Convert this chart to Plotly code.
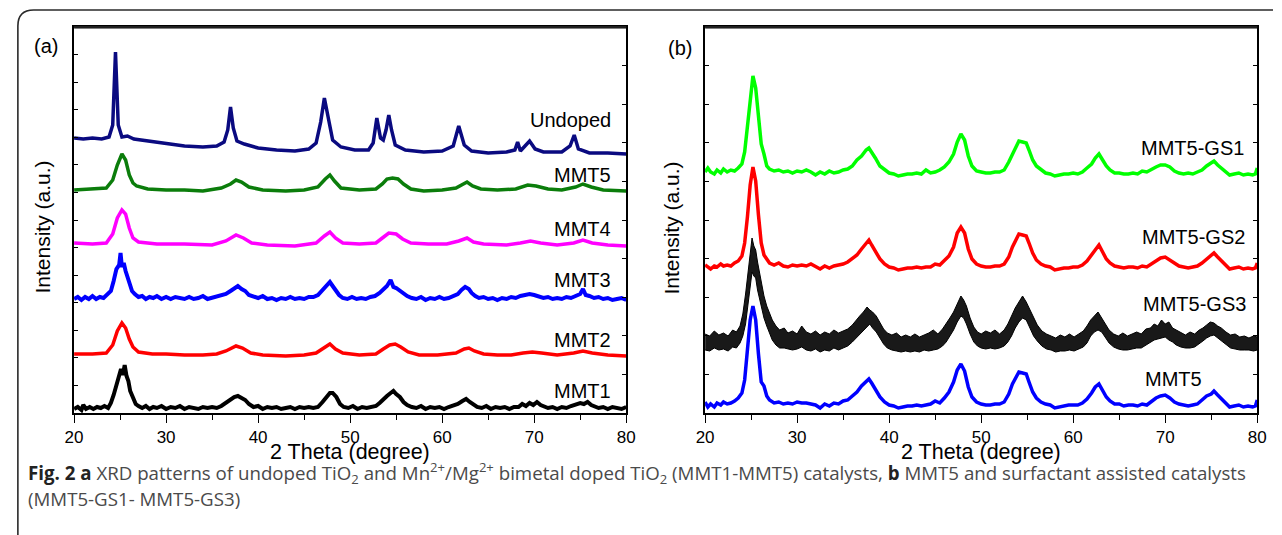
import plotly.graph_objects as go

W, H = 1282, 535

# ---------------- data (2θ in degree, relative intensity in a.u.) ----------------
two_theta_ticks = [20, 30, 40, 50, 60, 70, 80]
X_RANGE = [20, 80]

# panel (a)
undoped = [(20,14),(21,13),(22,14),(23,13),(23.8,15),(24.2,27),(24.5,100),(24.8,27),(25.2,15),(25.8,16),
           (26.5,13),(28,11),(30,8),(32,6),(34,5),(35.5,6),(36.3,10),(36.7,22),(37.0,45),(37.3,24),
           (37.7,11),(38.5,8),(40,4),(42,2),(44,1),(45.5,3),(46.3,9),(46.8,30),(47.2,54),(47.6,34),
           (48.1,12),(49,5),(50.5,2),(52,2),(52.5,9),(52.9,34),(53.3,14),(53.6,12),(53.9,22),(54.2,37),
           (54.5,22),(54.9,7),(56,2),(58,0),(60,1),(61.2,6),(61.8,26),(62.4,7),(63.2,1),(65,-1),
           (67,0),(67.9,2),(68.2,10),(68.5,1),(69.0,6),(69.5,11),(70.1,3),(71,0),(73,0),(73.9,6),
           (74.35,17),(74.8,3),(76,-1),(78,-1),(80,-2)]
mmt5 = [(20,0),(22,1),(23.5,2),(24.2,10),(24.7,25),(25.2,36),(25.6,30),(26.0,15),(26.4,7),(26.8,4),
        (28,1),(30,0),(32,0),(34,-1),(36,2),(37.0,6),(37.6,10),(38.2,8),(39.0,3),(40.5,0),(43,-1),
        (45,0),(46.5,3),(47.3,11),(47.8,15),(48.3,9),(49,2),(51,0),(52.8,1),(53.5,6),(54.0,11),
        (54.6,12),(55.2,11),(55.8,6),(56.6,1),(58,-1),(60,0),(61.5,2),(62.2,6),(62.7,8),(63.3,4),
        (64.2,1),(66,0),(68,1),(69.3,5),(70.2,4),(71.5,1),(73,0),(74.5,3),(75.3,6),(76.2,3),(77.5,0),(80,-1)]
mmt4 = [(20,1),(22,0),(23.5,1),(24.2,10),(24.7,26),(25.2,34),(25.6,30),(26.0,16),(26.4,6),(27,2),
        (29,0),(32,0),(35,-1),(36.5,3),(37.6,9),(38.4,6),(39.3,1),(41,-1),(44,-2),(46.3,1),(47.2,8),
        (47.8,12),(48.4,6),(49.2,1),(51,0),(52.8,1),(53.5,6),(54.2,11),(55.0,10),(55.7,5),(56.6,1),
        (58.5,0),(60.5,0),(61.8,3),(62.7,6),(63.4,2),(64.5,0),(67,-1),(68.5,1),(69.6,3),(70.7,1),
        (72.5,-1),(74.3,1),(75.3,4),(76.3,1),(78,-1),(80,-2)]
mmt3 = [(20,0),(20.4,2),(20.8,-1),(21.2,2),(21.6,0),(22,3),(22.4,0),(22.8,2),(23.2,1),(23.6,4),
        (24.0,8),(24.3,18),(24.6,30),(24.9,34),(25.05,46),(25.2,32),(25.4,36),(25.6,28),(25.8,22),(26.0,14),
        (26.3,8),(26.6,5),(27.0,2),(27.4,3),(27.8,0),(28.2,2),(28.6,1),(29.0,3),(29.5,0),(30,2),
        (30.5,0),(31,2),(31.5,1),(32,0),(32.5,2),(33,0),(33.5,1),(34,3),(34.5,0),(35,1),
        (35.5,2),(36,3),(36.5,5),(37,8),(37.5,11),(37.8,13),(38.2,10),(38.6,8),(39.0,4),(39.5,2),
        (40,1),(40.5,3),(41,0),(41.5,1),(42,-1),(42.5,1),(43,0),(43.5,2),(44,0),(44.5,1),
        (45,0),(45.5,2),(46,2),(46.5,4),(47,9),(47.4,14),(47.8,17),(48.1,13),(48.4,9),(48.8,4),
        (49.2,1),(49.7,0),(50.2,2),(50.7,0),(51.2,1),(51.7,0),(52.2,2),(52.7,3),(53.2,6),(53.6,10),
        (54.0,13),(54.4,19),(54.7,12),(55.0,11),(55.4,8),(55.8,5),(56.2,3),(56.7,1),(57.2,0),(57.7,2),
        (58.2,-1),(58.7,1),(59.2,0),(59.7,2),(60.2,0),(60.7,1),(61.2,3),(61.7,5),(62.1,9),(62.5,12),
        (62.9,10),(63.2,6),(63.6,3),(64.0,1),(64.5,2),(65,0),(65.5,1),(66,-1),(66.5,1),(67,0),
        (67.5,2),(68,1),(68.5,3),(69,4),(69.5,5),(70,4),(70.5,3),(71,1),(71.5,2),(72,0),
        (72.5,1),(73,0),(73.5,2),(74,1),(74.5,3),(75.0,5),(75.3,10),(75.6,4),(76,3),(76.5,1),
        (77,2),(77.5,0),(78,1),(78.5,-1),(79,0),(79.5,1),(80,-1)]
mmt2 = [(20,1),(22,1),(23.5,2),(24.2,10),(24.7,24),(25.2,32),(25.6,27),(26.0,16),(26.4,8),(27,3),
        (28.5,1),(30,1),(32,0),(34,0),(35.5,1),(36.5,4),(37.6,9),(38.3,7),(39.2,2),(40.5,0),(43,-1),
        (45,0),(46.3,2),(47.2,8),(47.8,11),(48.4,6),(49.2,2),(51,0),(52.8,1),(53.6,6),(54.3,10),
        (54.9,11),(55.5,8),(56.3,3),(57.5,0),(59.5,0),(61.5,2),(62.4,6),(62.9,7),(63.5,4),(64.5,1),
        (66,0),(67.5,0),(68.8,2),(69.8,3),(70.8,2),(72.5,0),(74.3,2),(75.3,4),(76.3,2),(78,0),(80,-1)]
mmt1 = [(20,0),(20.4,2),(20.8,-1),(21.0,4),(21.3,0),(21.7,2),(22.1,0),(22.5,2),(22.9,1),(23.3,3),
        (23.7,1),(24.0,6),(24.3,14),(24.6,25),(24.9,32),(25.1,40),(25.3,34),(25.5,44),(25.7,33),(25.9,28),
        (26.1,18),(26.4,10),(26.7,5),(27.0,3),(27.4,1),(27.8,3),(28.2,0),(28.6,2),(29.0,1),(29.5,3),
        (30,0),(30.5,2),(31,1),(31.5,3),(32,0),(32.5,2),(33,1),(33.5,0),(34,2),(34.5,1),
        (35,2),(35.5,1),(36,3),(36.5,6),(37,9),(37.4,12),(37.8,13),(38.2,11),(38.6,9),(39.0,5),
        (39.5,2),(40,3),(40.5,0),(41,2),(41.5,1),(42,2),(42.5,0),(43,1),(43.5,2),(44,0),
        (44.5,2),(45,1),(45.5,2),(46,1),(46.5,2),(47,7),(47.4,12),(47.8,16),(48.1,16),(48.5,12),
        (48.9,5),(49.3,2),(49.8,1),(50.3,3),(50.8,0),(51.3,2),(51.8,1),(52.3,2),(52.8,3),(53.2,6),
        (53.6,10),(54.0,13),(54.4,16),(54.7,18),(55.0,15),(55.4,12),(55.8,7),(56.2,4),(56.7,2),(57.2,1),
        (57.7,3),(58.2,0),(58.7,2),(59.2,1),(59.7,2),(60.2,0),(60.7,2),(61.2,3),(61.7,5),(62.2,8),
        (62.6,10),(63.0,7),(63.4,4),(63.8,2),(64.3,1),(64.8,3),(65.3,0),(65.8,2),(66.3,1),(66.8,2),
        (67.3,0),(67.8,2),(68.3,2),(68.7,5),(69.1,3),(69.5,6),(69.9,4),(70.3,7),(70.7,4),(71.1,3),
        (71.5,1),(72,2),(72.5,0),(73,2),(73.5,1),(74,3),(74.5,4),(75,6),(75.4,5),(75.8,7),
        (76.2,4),(76.6,3),(77,1),(77.5,2),(78,0),(78.5,2),(79,1),(79.5,0),(80,2)]

# panel (b)
gs1 = [(20,2),(20.3,6),(20.6,2),(21.0,0),(21.3,4),(21.7,1),(22.0,5),(22.4,2),(22.8,4),(23.2,3),
       (23.6,6),(24.0,10),(24.3,22),(24.6,48),(24.9,80),(25.2,98),(25.5,86),(25.8,55),(26.1,30),(26.4,20),
       (26.7,8),(27.0,5),(27.5,3),(28,4),(28.5,2),(29,3),(29.5,1),(30,3),(30.5,2),(31,4),
       (31.5,2),(32,-1),(32.5,2),(33,0),(33.5,3),(34,1),(34.5,2),(35,4),(35.5,5),(36,8),
       (36.5,14),(37.0,18),(37.5,24),(37.8,26),(38.1,22),(38.5,16),(39.0,8),(39.5,4),(40,1),(40.5,0),
       (41,-2),(41.5,-1),(42,0),(42.5,0),(43,1),(43.5,0),(44,4),(44.5,1),(45,2),(45.5,4),
       (46,7),(46.5,12),(47.0,20),(47.4,32),(47.8,40),(48.2,34),(48.6,18),(49.0,8),(49.5,3),(50,2),
       (50.5,1),(51,1),(51.5,2),(52,2),(52.5,4),(53.0,12),(53.4,20),(53.8,28),(54.1,33),(54.5,32),
       (54.9,31),(55.2,24),(55.6,14),(56.0,8),(56.5,4),(57,1),(57.5,0),(58,-2),(58.5,-1),(59,0),
       (59.5,0),(60,1),(60.5,0),(61,2),(61.5,6),(62.0,10),(62.4,16),(62.8,20),(63.2,14),(63.6,8),
       (64.0,4),(64.5,1),(65,1),(65.5,0),(66,0),(66.5,1),(67,0),(67.5,3),(68,2),(68.5,5),
       (69,7),(69.5,9),(70,9),(70.5,7),(71,3),(71.5,1),(72,0),(72.5,1),(73,0),(73.5,2),
       (74,4),(74.5,8),(75.0,11),(75.3,13),(75.7,9),(76.2,5),(76.7,2),(77,-1),(77.5,0),(78,1),
       (78.5,-1),(79,0),(79.5,-1),(79.8,0),(80,6)]
gs2 = [(20,2),(20.3,0),(20.6,-2),(21.0,1),(21.3,0),(21.7,3),(22.0,1),(22.4,2),(22.8,1),(23.2,4),
       (23.6,6),(24.0,11),(24.3,24),(24.6,50),(24.9,82),(25.2,100),(25.5,86),(25.8,52),(26.1,24),(26.4,12),
       (26.7,8),(27.0,4),(27.5,2),(28,4),(28.5,1),(29,0),(29.5,2),(30,1),(30.5,2),(31,1),
       (31.5,3),(32,0),(32.5,-2),(33,1),(33.5,-1),(34,1),(34.5,2),(35,3),(35.5,5),(36,8),
       (36.5,12),(37.0,18),(37.5,24),(37.8,27),(38.1,22),(38.5,16),(39.0,8),(39.5,3),(40,0),(40.5,-1),
       (41,-3),(41.5,-2),(42,-1),(42.5,-1),(43,0),(43.5,-1),(44,0),(44.5,0),(45,3),(45.5,2),
       (46,6),(46.5,11),(47.0,20),(47.4,34),(47.8,40),(48.2,34),(48.6,18),(49.0,8),(49.5,3),(50,1),
       (50.5,0),(51,0),(51.5,1),(52,1),(52.5,3),(53.0,10),(53.4,20),(53.8,28),(54.1,33),(54.5,32),
       (54.9,31),(55.2,24),(55.6,14),(56.0,7),(56.5,3),(57,1),(57.5,0),(58,-3),(58.5,-2),(59,-1),
       (59.5,-1),(60,0),(60.5,0),(61,2),(61.5,6),(62.0,12),(62.4,18),(62.8,22),(63.2,15),(63.6,8),
       (64.0,4),(64.5,1),(65,0),(65.5,-1),(66,0),(66.5,0),(67,-1),(67.5,1),(68,0),(68.5,3),
       (69,7),(69.5,9),(70,10),(70.5,7),(71,3),(71.5,1),(72,0),(72.5,-1),(73,0),(73.5,1),
       (74,4),(74.5,8),(75.0,11),(75.3,14),(75.7,10),(76.2,5),(76.7,0),(77,-2),(77.5,-1),(78,0),
       (78.5,-2),(79,-1),(79.5,-2),(79.8,-1),(80,4)]
# noisy pattern MMT5-GS3: (2θ, upper edge, lower edge) of the noise band
gs3_band = [(20,8,-8),(20.5,6,-9),(21,11,-6),(21.5,7,-8),(22,9,-7),(22.5,6,-9),(23,12,-5),(23.4,10,-6),
            (23.8,16,-1),(24.1,28,6),(24.4,48,18),(24.7,70,38),(24.9,88,52),(25.1,104,70),(25.3,96,66),
            (25.5,92,64),(25.7,80,52),(25.9,70,44),(26.1,60,34),(26.4,46,24),(26.7,36,16),(27.0,28,8),
            (27.3,22,2),(27.7,16,-3),(28.1,12,-6),(28.6,14,-6),(29.0,9,-7),(29.5,11,-8),(30.0,8,-7),
            (30.5,16,-5),(31.0,10,-8),(31.5,8,-9),(32.0,11,-7),(32.5,7,-10),(33.0,10,-8),(33.5,8,-9),
            (34.0,12,-6),(34.5,9,-8),(35.0,11,-6),(35.5,13,-4),(36.0,17,0),(36.4,22,4),(36.8,26,8),
            (37.2,30,12),(37.6,35,16),(37.9,32,18),(38.2,30,14),(38.6,26,10),(39.0,19,4),(39.4,13,-2),
            (39.8,9,-6),(40.3,7,-8),(40.8,9,-9),(41.3,5,-10),(41.8,7,-9),(42.3,5,-10),(42.8,8,-9),
            (43.3,5,-10),(43.8,7,-8),(44.3,9,-9),(44.8,12,-8),(45.3,8,-7),(45.8,13,-4),(46.2,18,0),
            (46.6,24,6),(47.0,30,12),(47.4,38,20),(47.8,46,26),(48.1,42,24),(48.4,36,18),(48.8,24,8),
            (49.2,15,0),(49.6,10,-4),(50.0,8,-6),(50.5,11,-7),(51.0,9,-6),(51.5,12,-7),(52.0,8,-6),
            (52.5,12,-4),(52.9,18,0),(53.3,26,6),(53.7,34,14),(54.1,40,20),(54.5,46,24),(54.9,40,22),
            (55.3,32,14),(55.7,24,6),(56.1,17,1),(56.6,11,-4),(57.1,8,-7),(57.6,6,-8),(58.1,4,-10),
            (58.6,7,-9),(59.1,5,-9),(59.6,8,-8),(60.1,5,-9),(60.6,8,-7),(61.1,11,-5),(61.5,16,-1),
            (61.9,22,6),(62.3,26,10),(62.7,30,12),(63.1,24,10),(63.5,18,4),(63.9,12,-1),(64.4,8,-5),
            (64.9,6,-7),(65.4,9,-8),(65.9,6,-8),(66.4,8,-7),(66.9,10,-6),(67.4,8,-6),(67.9,13,-3),
            (68.4,14,0),(68.8,18,2),(69.2,16,3),(69.6,22,4),(70.0,18,5),(70.4,20,2),(70.8,14,0),
            (71.2,12,-3),(71.7,9,-5),(72.2,7,-6),(72.7,10,-6),(73.2,8,-5),(73.7,12,-2),(74.1,14,1),
            (74.5,17,4),(74.9,20,6),(75.3,19,7),(75.7,16,4),(76.1,14,1),(76.6,10,-3),(77.1,7,-6),
            (77.6,8,-7),(78.1,5,-8),(78.6,6,-8),(79.1,4,-8),(79.6,6,-9),(80,5,-8)]
mmt5_b = [(20,2),(20.3,-3),(20.6,0),(21.0,-3),(21.3,1),(21.7,-1),(22.0,2),(22.4,0),(22.8,1),(23.2,3),
          (23.6,6),(24.0,11),(24.3,24),(24.6,52),(24.9,84),(25.2,98),(25.5,84),(25.8,50),(26.1,22),(26.4,18),
          (26.7,8),(27.0,4),(27.5,1),(28,2),(28.5,0),(29,1),(29.5,0),(30,2),(30.5,1),(31,1),
          (31.5,0),(32,-1),(32.5,-4),(33,0),(33.5,-2),(34,1),(34.5,0),(35,3),(35.5,4),(36,8),
          (36.5,12),(37.0,18),(37.5,23),(37.8,25),(38.1,21),(38.5,15),(39.0,7),(39.5,2),(40,-1),(40.5,-2),
          (41,-4),(41.5,-3),(42,-2),(42.5,-2),(43,-1),(43.5,-2),(44,-1),(44.5,0),(45,3),(45.5,1),
          (46,6),(46.5,12),(47.0,22),(47.4,34),(47.8,40),(48.2,33),(48.6,17),(49.0,7),(49.5,2),(50,0),
          (50.5,-1),(51,-1),(51.5,0),(52,0),(52.5,2),(53.0,10),(53.4,20),(53.8,28),(54.1,32),(54.5,31),
          (54.9,30),(55.2,22),(55.6,12),(56.0,6),(56.5,2),(57,0),(57.5,-1),(58,-4),(58.5,-3),(59,-2),
          (59.5,-1),(60,-1),(60.5,-1),(61,1),(61.5,5),(62.0,11),(62.4,17),(62.8,20),(63.2,14),(63.6,7),
          (64.0,3),(64.5,0),(65,0),(65.5,-2),(66,-1),(66.5,-1),(67,-2),(67.5,0),(68,-1),(68.5,3),
          (69,6),(69.5,8),(70,9),(70.5,6),(71,2),(71.5,0),(72,-1),(72.5,-2),(73,-1),(73.5,0),
          (74,4),(74.5,8),(75.0,10),(75.3,13),(75.7,9),(76.2,4),(76.7,-1),(77,-3),(77.5,-2),(78,-1),
          (78.5,-3),(79,-2),(79.5,-3),(79.8,-2),(80,4)]

# ---------------- stacking & styling ----------------
panel_a = [("Undoped", undoped, 261, "#0a0a80", 3.5, 293),
           ("MMT5", mmt5, 223, "#0b7d0b", 3.5, 238),
           ("MMT4", mmt4, 169, "#ff00ff", 3.5, 184),
           ("MMT3", mmt3, 114, "#0000ff", 4.0, 133),
           ("MMT2", mmt2, 58, "#ff0000", 3.5, 73),
           ("MMT1", mmt1, 4, "#000000", 4.0, 22)]
panel_b = [("MMT5-GS1", gs1, 239, "#00ff00", 3.5, 265, 78.8),
           ("MMT5-GS2", gs2, 146, "#ff0000", 3.5, 176, 78.9),
           ("MMT5", mmt5_b, 9, "#0000ff", 3.5, 34, 74.2)]
gs3_offset, gs3_label_y = 71, 109

FONT = "Arial, Liberation Sans, sans-serif"
YMAX = 386

def px(x):
    return x / W

def py(y):
    return 1 - y / H

fig = go.Figure()

# top edge of each plot frame, drawn along the top of the y range (clipped to the plot area)
for xa, ya in [("x", "y"), ("x2", "y2")]:
    fig.add_trace(go.Scatter(x=X_RANGE, y=[YMAX, YMAX], mode="lines", line=dict(color="#000", width=3.2),
                             xaxis=xa, yaxis=ya, showlegend=False, hoverinfo="skip"))

for name, pts, off, col, lw, _ in panel_a:
    fig.add_trace(go.Scatter(x=[p[0] for p in pts], y=[p[1] + off for p in pts], mode="lines",
                             line=dict(color=col, width=lw), xaxis="x", yaxis="y",
                             showlegend=False, name=name))

for name, pts, off, col, lw, _, _ in panel_b:
    fig.add_trace(go.Scatter(x=[p[0] for p in pts], y=[p[1] + off for p in pts], mode="lines",
                             line=dict(color=col, width=lw), xaxis="x2", yaxis="y2",
                             showlegend=False, name=name))

bx = [p[0] for p in gs3_band]
fig.add_trace(go.Scatter(x=bx, y=[p[2] + gs3_offset for p in gs3_band], mode="lines",
                         line=dict(color="#000", width=1), xaxis="x2", yaxis="y2", showlegend=False))
fig.add_trace(go.Scatter(x=bx, y=[p[1] + gs3_offset for p in gs3_band], mode="lines",
                         line=dict(color="#000", width=1), fill="tonexty", fillcolor="rgba(0,0,0,0.9)",
                         xaxis="x2", yaxis="y2", showlegend=False, name="MMT5-GS3"))

# empty trace so that the right-hand tick axis of panel (a) is drawn
fig.add_trace(go.Scatter(x=[], y=[], xaxis="x", yaxis="y3", showlegend=False, hoverinfo="skip"))

dom_a = [px(66), px(626)]
dom_b = [px(706), px(1266)]
dom_y = [py(413), py(27)]
left_a_ticks = [i * YMAX / 14 for i in range(15)]
ten_ticks = [i * YMAX / 10 for i in range(11)]

line_style = dict(showline=True, linecolor="#000", linewidth=1.5, showgrid=False, zeroline=False)

def bottom_axis(domain, anchor):
    return dict(domain=domain, anchor=anchor, range=X_RANGE, tickmode="array", tickvals=two_theta_ticks,
                ticks="outside", ticklen=8, tickwidth=1.2, tickcolor="#000", mirror=True,
                minor=dict(tickmode="array", tickvals=[25, 35, 45, 55, 65, 75], ticks="outside",
                           ticklen=5, tickwidth=1.2, tickcolor="#000"),
                tickfont=dict(family=FONT, size=17, color="#000"), **line_style)

def y_axis(anchor, vals, mirror, side="left", over=None):
    d = dict(anchor=anchor, range=[0, YMAX], tickmode="array", tickvals=vals, ticks="inside",
             ticklen=4, tickwidth=1.2, tickcolor="#000", showticklabels=False, side=side, **line_style)
    if over:
        d["overlaying"] = over
    else:
        d["domain"] = dom_y
    if mirror:
        d["mirror"] = mirror
    return d

annotations = []

def ann(text, x, y, size, **kw):
    base = dict(text=text, x=px(x), y=py(y), xref="paper", yref="paper", showarrow=False,
                xanchor="center", yanchor="middle", font=dict(family=FONT, size=size, color="#000"))
    base.update(kw)
    annotations.append(base)

ann("(a)", 38, 46, 20)
ann("(b)", 681, 48, 20)
ann("Intensity (a.u.)", 33, 227, 21, textangle=-90)
ann("Intensity (a.u.)", 671, 228, 21, textangle=-90)
ann("2 Theta (degree)", 346, 452, 21.5)
ann("2 Theta (degree)", 986, 452, 21.5)

for name, pts, off, col, lw, ly in panel_a:
    annotations.append(dict(text=name, x=78.6, y=ly, xref="x", yref="y", xanchor="right",
                            yanchor="middle", showarrow=False,
                            font=dict(family=FONT, size=20, color="#000")))
for name, pts, off, col, lw, ly, lx in panel_b:
    annotations.append(dict(text=name, x=lx, y=ly, xref="x2", yref="y2", xanchor="right",
                            yanchor="middle", showarrow=False,
                            font=dict(family=FONT, size=20, color="#000")))
annotations.append(dict(text="MMT5-GS3", x=79.0, y=gs3_label_y, xref="x2", yref="y2", xanchor="right",
                        yanchor="middle", showarrow=False, font=dict(family=FONT, size=20, color="#000")))

CAP = "Open Sans, Noto Sans, sans-serif"
cap1 = ('<span style="color:#222"><b>Fig. 2 a</b></span> XRD patterns of undoped TiO<sub>2</sub> and '
        'Mn<sup>2+</sup>/Mg<sup>2+</sup> bimetal doped TiO<sub>2</sub> (MMT1-MMT5) catalysts, '
        '<span style="color:#222"><b>b</b></span> MMT5 and surfactant assisted catalysts')
cap2 = '(MMT5-GS1- MMT5-GS3)'
annotations.append(dict(text=cap1, x=px(17), y=py(473), xref="paper", yref="paper", xanchor="left",
                        yanchor="middle", showarrow=False, font=dict(family=CAP, size=18.7, color="#4a4a4a")))
annotations.append(dict(text=cap2, x=px(17), y=py(498), xref="paper", yref="paper", xanchor="left",
                        yanchor="middle", showarrow=False, font=dict(family=CAP, size=18.7, color="#4a4a4a")))

# outer card border and the top edges of both plot frames, all in one paper-space path
r = 16
frame_tops = "".join(f" M {d[0]},{dom_y[1]} L {d[1]},{dom_y[1]}" for d in (dom_a, dom_b))
border = (f"M {px(9)},{py(535)} L {px(9)},{py(10 + r)} Q {px(9)},{py(10)} {px(9 + r)},{py(10)} "
          f"L {px(1282)},{py(10)}" + frame_tops)

shapes = [dict(type="path", path=border, xref="paper", yref="paper",
               line=dict(color="#2a2a2a", width=1.6))]

fig.update_layout(
    width=W, height=H, margin=dict(l=0, r=0, t=0, b=0),
    paper_bgcolor="#fff", plot_bgcolor="rgba(0,0,0,0)",
    xaxis=bottom_axis(dom_a, "y"),
    yaxis=y_axis("x", left_a_ticks, True),
    xaxis2=bottom_axis(dom_b, "y2"),
    yaxis2=y_axis("x2", ten_ticks, "ticks"),
    yaxis3=y_axis("x", ten_ticks, False, side="right", over="y"),
    annotations=annotations,
    shapes=shapes,
)

fig.write_html("out.html")
